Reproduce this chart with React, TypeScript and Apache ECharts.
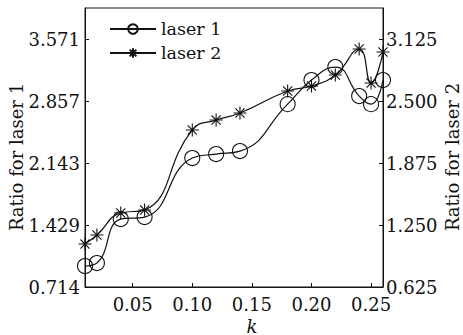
import React, { useEffect, useRef } from "react";
import * as echarts from "echarts";

const kValues = [0.01, 0.02, 0.04, 0.06, 0.10, 0.12, 0.14, 0.18, 0.20, 0.22, 0.24, 0.25, 0.26];
const laser1 = [0.956, 0.990, 1.497, 1.520, 2.200, 2.246, 2.280, 2.821, 3.098, 3.248, 2.914, 2.821, 3.098];
const laser2 = [1.058, 1.149, 1.371, 1.401, 2.208, 2.308, 2.379, 2.601, 2.651, 2.762, 3.024, 2.681, 2.994];
const xTicks = [0.05, 0.10, 0.15, 0.20, 0.25];
const leftTicks = [5 / 7, 10 / 7, 15 / 7, 20 / 7, 25 / 7];
const rightTicks = [0.625, 1.25, 1.875, 2.5, 3.125];

const FONT = "DejaVu Serif";
const INK = "#111";
const STAR = "path://M0,-10L0,10M-10,0L10,0M-7,-7L7,7M-7,7L7,-7";

export default function App() {
  const ref = useRef<HTMLDivElement>(null);
  useEffect(() => {
    if (!ref.current) return;
    const chart = echarts.init(ref.current, undefined, { renderer: "svg" });
    const axisCommon = {
      axisLine: { show: true, lineStyle: { color: INK, width: 1 } },
      axisTick: { show: true, inside: true, length: 4, lineStyle: { color: INK } },
      splitLine: { show: false },
    };
    chart.setOption({
      animation: false,
      backgroundColor: "#fff",
      grid: { left: 85, right: 80, top: 8, bottom: 48, show: true, borderColor: INK, borderWidth: 1, backgroundColor: "transparent" },
      legend: {
        orient: "vertical",
        left: 104,
        top: 15,
        itemWidth: 46,
        itemHeight: 12,
        itemGap: 6,
        textStyle: { fontFamily: FONT, fontSize: 17.5, color: INK },
        data: ["laser 1", "laser 2"],
      },
      xAxis: {
        type: "value",
        min: 0.01,
        max: 0.26,
        ...axisCommon,
        axisTick: { ...axisCommon.axisTick, customValues: xTicks },
        axisLabel: { customValues: xTicks, formatter: (v: number) => v.toFixed(2), fontFamily: FONT, fontSize: 18, color: INK, margin: 8 },
      },
      yAxis: [
        {
          type: "value",
          min: 5 / 7,
          max: 27.5 / 7,
          position: "left",
          ...axisCommon,
          axisTick: { ...axisCommon.axisTick, customValues: leftTicks },
          axisLabel: { customValues: leftTicks, formatter: (v: number) => v.toFixed(3), fontFamily: FONT, fontSize: 18, color: INK, margin: 5 },
        },
        {
          type: "value",
          min: 0.625,
          max: 3.4375,
          position: "right",
          ...axisCommon,
          axisTick: { ...axisCommon.axisTick, customValues: rightTicks },
          axisLabel: { customValues: rightTicks, formatter: (v: number) => v.toFixed(3), fontFamily: FONT, fontSize: 18, color: INK, margin: 3 },
        },
      ],
      series: [
        {
          name: "laser 1",
          type: "line",
          yAxisIndex: 0,
          data: kValues.map((k, i) => [k, laser1[i]]),
          smooth: 0.5,
          clip: false,
          symbol: "circle",
          symbolSize: 15,
          showAllSymbol: true,
          lineStyle: { color: INK, width: 1.2 },
          itemStyle: { color: "rgba(0,0,0,0)", borderColor: INK, borderWidth: 1.1 },
          z: 3,
        },
        {
          name: "laser 2",
          type: "line",
          yAxisIndex: 1,
          data: kValues.map((k, i) => [k, laser2[i]]),
          smooth: 0.5,
          clip: false,
          symbol: STAR,
          symbolSize: 13,
          showAllSymbol: true,
          lineStyle: { color: INK, width: 1.2 },
          itemStyle: { color: "rgba(0,0,0,0)", borderColor: INK, borderWidth: 1.1 },
          z: 3,
        },
      ],
      graphic: [
        { type: "text", x: 16, y: 157, rotation: Math.PI / 2, style: { text: "Ratio for laser 1", fontFamily: FONT, fontSize: 18, fill: INK, textAlign: "center", textVerticalAlign: "middle" } },
        { type: "text", x: 452, y: 157, rotation: Math.PI / 2, style: { text: "Ratio for laser 2", fontFamily: FONT, fontSize: 18, fill: INK, textAlign: "center", textVerticalAlign: "middle" } },
        { type: "text", x: 252, y: 326, style: { text: "k", fontFamily: FONT, fontStyle: "italic", fontSize: 18, fill: INK, textAlign: "center", textVerticalAlign: "middle" } },
      ],
    });
    return () => chart.dispose();
  }, []);
  return <div ref={ref} style={{ position: "fixed", left: 0, top: 0, width: 463, height: 335 }} />;
}
